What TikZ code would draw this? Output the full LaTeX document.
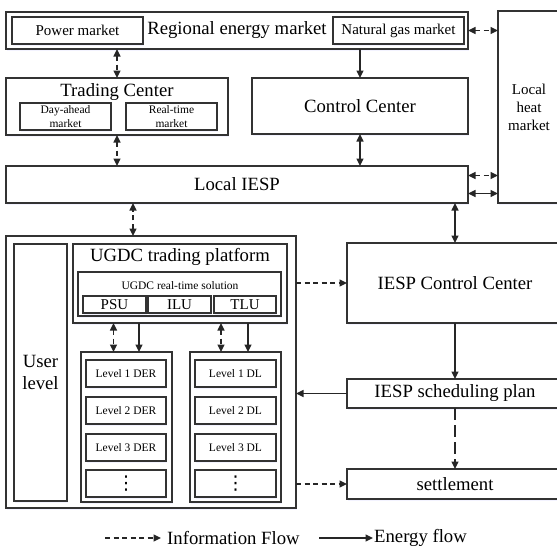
\documentclass[tikz,border=0pt]{standalone}
\usepackage{fontspec}
\setmainfont{Liberation Serif}
\newfontfamily\symfont{DejaVu Sans}
\usetikzlibrary{arrows.meta,shadows}

\begin{document}
\begin{tikzpicture}[x=1pt,y=-1pt,
    box/.style={draw=black!80,line width=1.1pt,fill=white,inner sep=0pt,outer sep=0pt,anchor=north west,
        drop shadow={fill=blue!9,shadow xshift=0.6pt,shadow yshift=-1.8pt}},
    big/.style={font=\fontsize{18.7}{22}\selectfont},
    mid/.style={font=\fontsize{15}{18}\selectfont},
    small/.style={font=\fontsize{11.5}{14}\selectfont},
    dots/.style={font=\symfont\fontsize{19}{19}\selectfont},
    flow/.style={line width=1.4pt,draw=black!85,-{Triangle[length=7.5pt,width=7pt]}},
    both/.style={flow,{Triangle[length=7.5pt,width=7pt]}-{Triangle[length=7.5pt,width=7pt]}},
    info/.style={flow,dash pattern=on 5pt off 3.5pt},
    infoboth/.style={both,dash pattern=on 5pt off 3.5pt}]
    \path[use as bounding box] (0,0) rectangle (557,550);
    \clip (0,0) rectangle (557,550);

    % markets
    \node[box,big,minimum width=462pt,minimum height=37pt] (rem) at (6,12) {Regional energy market};
    \node[box,mid,minimum width=131pt,minimum height=27pt] (pm) at (12,17) {Power market};
    \node[box,mid,minimum width=131pt,minimum height=27pt] (ngm) at (333,17) {Natural gas market};
    \node[box,mid,align=center,minimum width=62pt,minimum height=192pt] (heat) at (498,11) {Local\\heat\\market};

    \node[box,minimum width=222pt,minimum height=57pt] (tc) at (6,78) {};
    \node[big] (tctxt) at (117,92) {Trading Center};
    \node[box,small,align=center,minimum width=91pt,minimum height=27pt] (dam) at (20,103) {Day-ahead\\market};
    \node[box,small,align=center,minimum width=91pt,minimum height=27pt] (rtm) at (126,103) {Real-time\\market};
    \node[box,big,minimum width=216pt,minimum height=56pt] (cc) at (252,78) {Control Center};
    \node[box,big,minimum width=462pt,minimum height=37pt] (iesp) at (6,166) {Local IESP};

    % user side
    \node[box,minimum width=290pt,minimum height=272pt] (user) at (6,236) {};
    \node[box,big,align=center,minimum width=53pt,minimum height=257pt] (ul) at (14,244) {User\\level};
    \node[box,minimum width=214pt,minimum height=79pt] (plat) at (73,244) {};
    \node[big] (plattxt) at (180,257) {UGDC trading platform};
    \node[box,minimum width=203pt,minimum height=44pt] (sol) at (78,272) {};
    \node[small] (soltxt) at (180,286) {UGDC real-time solution};
    \node[box,mid,minimum width=63pt,minimum height=17pt] (psu) at (83,296) {PSU};
    \node[box,mid,minimum width=63pt,minimum height=17pt] (ilu) at (148,296) {ILU};
    \node[box,mid,minimum width=62pt,minimum height=17pt] (tlu) at (214,296) {TLU};

    \node[box,minimum width=91pt,minimum height=150pt] (der) at (81,352) {};
    \node[box,minimum width=91pt,minimum height=150pt] (dl) at (190,352) {};
    \foreach \i/\y in {1/360,2/397,3/434}{
        \node[box,small,minimum width=80pt,minimum height=27pt] (der\i) at (86,\y) {Level \i\ DER};
        \node[box,small,minimum width=81pt,minimum height=27pt] (dl\i) at (195,\y) {Level \i\ DL};
    }
    \node[box,dots,minimum width=80pt,minimum height=27pt] (der4) at (86,470) {⋮};
    \node[box,dots,minimum width=81pt,minimum height=27pt] (dl4) at (195,470) {⋮};

    % IESP side
    \node[box,big,minimum width=216pt,minimum height=80pt] (iespcc) at (347,243) {IESP Control Center};
    \node[box,big,minimum width=216pt,minimum height=29pt] (plan) at (347,379) {IESP scheduling plan};
    \node[box,big,minimum width=216pt,minimum height=30pt] (settle) at (347,469) {settlement};

    % connectors
    \draw[infoboth] (rem.south -| tc.north) -- (tc.north);
    \draw[infoboth] (tc.south) -- (tc.south |- iesp.north);
    \draw[flow] (rem.south -| cc.north) -- (cc.north);
    \draw[both] (cc.south) -- (cc.south |- iesp.north);
    \draw[infoboth] (rem.east) -- (rem.east -| heat.west);
    \draw[infoboth] ([yshift=9pt]iesp.east) -- ([yshift=9pt]iesp.east -| heat.west);
    \draw[both] ([yshift=-9pt]iesp.east) -- ([yshift=-9pt]iesp.east -| heat.west);
    \draw[infoboth] ([xshift=-18pt]user.north) -- ([xshift=-18pt]user.north |- iesp.south);
    \draw[both] (iespcc.north) -- (iespcc.north |- iesp.south);
    \draw[info] (iespcc.west -| user.east) -- (iespcc.west);
    \draw[flow] (iespcc.south) -- (plan.north);
    \draw[flow] (plan.west) -- (plan.west -| user.east);
    \draw[flow,dash pattern=on 12pt off 5pt] (plan.south) -- (settle.north);
    \draw[info] (settle.west -| user.east) -- (settle.west);
    \draw[infoboth] ([xshift=-13pt]der.north |- plat.south) -- ([xshift=-13pt]der.north);
    \draw[flow] ([xshift=12.5pt]der.north |- plat.south) -- ([xshift=12.5pt]der.north);
    \draw[infoboth] ([xshift=-14.5pt]dl.north |- plat.south) -- ([xshift=-14.5pt]dl.north);
    \draw[flow] ([xshift=12.5pt]dl.north |- plat.south) -- ([xshift=12.5pt]dl.north);

    % legend
    \coordinate (l1) at (105,538);
    \node[big,anchor=west,inner sep=0pt] (infotxt) at (167,538) {Information Flow};
    \draw[info] (l1) -- ([xshift=-6pt]infotxt.west);
    \coordinate (l2) at (319,538);
    \node[big,anchor=west,inner sep=0pt] (entxt) at (374,538) {Energy flow};
    \draw[flow] (l2) -- ([xshift=-1pt]entxt.west);
\end{tikzpicture}
\end{document}
